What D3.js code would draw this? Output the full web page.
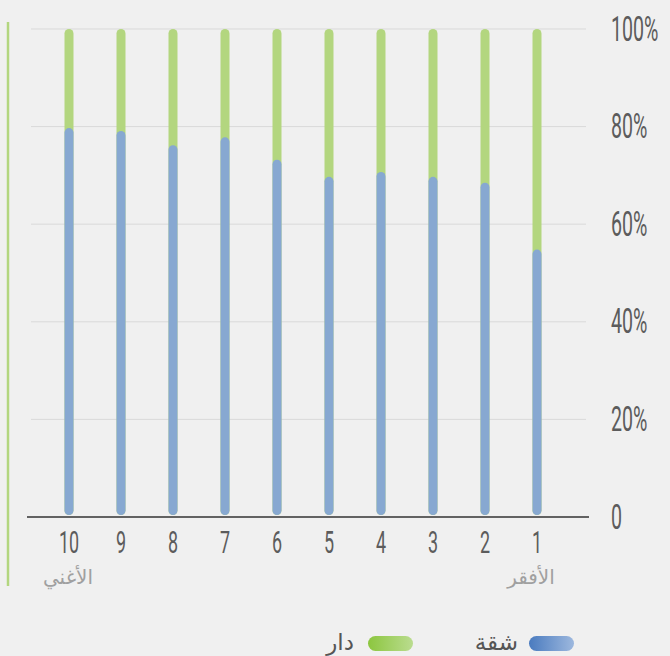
<!DOCTYPE html>
<html>
<head>
<meta charset="utf-8">
<script src="https://cdn.jsdelivr.net/npm/d3@7"></script>
<style>
  html, body { margin: 0; padding: 0; background: #f0f0f0; }
  svg { display: block; }
</style>
</head>
<body>
<svg id="chart" width="670" height="656"></svg>
<script>
// Deciles from richest (10) to poorest (1)
const categories = ["10", "9", "8", "7", "6", "5", "4", "3", "2", "1"];
// Share living in an apartment (%); the remainder lives in a house
const apartmentShare = [79.7, 79.1, 76.2, 77.8, 73.2, 69.7, 70.7, 69.7, 68.5, 54.8];
const yTicks = [0, 20, 40, 60, 80, 100];
const yTickLabels = ["0", "20%", "40%", "60%", "80%", "100%"];
const seriesNames = ["شقة", "دار"];
const endLabels = ["الأغني", "الأفقر"];

const colors = {
  apartment: "#87a8d1",
  house: "#b3d67f",
  grid: "#d9d9d9",
  axis: "#333333",
  tickText: "#5c5c5c",
  subText: "#a0a0a0"
};

const svg = d3.select("#chart");

const x = d3.scaleBand().domain(categories).range([43, 563]).padding(0);
const y = d3.scaleLinear().domain([0, 100]).range([517, 29]);
const barW = 9;

// Left accent line
svg.append("line")
  .attr("x1", 8).attr("x2", 8).attr("y1", 22).attr("y2", 586)
  .attr("stroke", colors.house).attr("stroke-width", 2.5);

// Horizontal gridlines
svg.append("g").selectAll("line")
  .data(yTicks.filter(t => t > 0))
  .join("line")
  .attr("x1", 31).attr("x2", 586)
  .attr("y1", d => y(d)).attr("y2", d => y(d))
  .attr("stroke", colors.grid).attr("stroke-width", 1);

// Bars: full-height house share, apartment share overlaid from the bottom
const bars = svg.append("g");
const barData = categories.map((c, i) => ({ cat: c, value: apartmentShare[i] }));
const cx = d => x(d.cat) + x.bandwidth() / 2;

bars.selectAll("rect.house")
  .data(barData)
  .join("rect")
  .attr("class", "house")
  .attr("x", d => cx(d) - barW / 2)
  .attr("y", y(100))
  .attr("width", barW)
  .attr("height", y(0) - 2 - y(100))
  .attr("rx", barW / 2)
  .attr("fill", colors.house);

bars.selectAll("rect.apartment")
  .data(barData)
  .join("rect")
  .attr("class", "apartment")
  .attr("x", d => cx(d) - barW / 2)
  .attr("y", d => y(d.value))
  .attr("width", barW)
  .attr("height", d => y(0) - 2 - y(d.value))
  .attr("rx", barW / 2)
  .attr("fill", colors.apartment);

// Baseline
svg.append("line")
  .attr("x1", 27).attr("x2", 589)
  .attr("y1", y(0)).attr("y2", y(0))
  .attr("stroke", colors.axis).attr("stroke-width", 1.5);

const condensed = "scale(0.56,1)";

// Category axis
const xAxis = svg.append("g")
  .attr("transform", `translate(0,${y(0)})`)
  .call(d3.axisBottom(x).tickSize(0).tickPadding(0));
xAxis.select(".domain").remove();
xAxis.selectAll("text")
  .attr("y", 0).attr("dy", 0)
  .attr("transform", "translate(0,36) " + condensed)
  .attr("font-family", "Roboto, 'DejaVu Sans', sans-serif")
  .attr("font-weight", 400)
  .attr("font-size", 32)
  .attr("fill", colors.tickText)
  .attr("text-anchor", "middle");

// Percentage axis on the right
const yAxis = svg.append("g")
  .attr("transform", "translate(611,0)")
  .call(d3.axisRight(y).tickValues(yTicks).tickSize(0).tickPadding(0)
    .tickFormat((d, i) => yTickLabels[i]));
yAxis.select(".domain").remove();
yAxis.selectAll("text")
  .attr("x", 0).attr("dy", 0)
  .attr("transform", "translate(0,11) " + condensed)
  .attr("font-family", "Roboto, 'DejaVu Sans', sans-serif")
  .attr("font-weight", 400)
  .attr("font-size", 35)
  .attr("fill", colors.tickText)
  .attr("text-anchor", "start");

// Richest / poorest labels under the end bars
svg.append("g").selectAll("text")
  .data([{ cat: "10", label: endLabels[0], dx: -1 }, { cat: "1", label: endLabels[1], dx: -6 }])
  .join("text")
  .attr("x", d => x(d.cat) + x.bandwidth() / 2 + d.dx)
  .attr("y", 584)
  .attr("text-anchor", "middle")
  .attr("font-family", "'DejaVu Sans', 'Noto Sans', sans-serif")
  .attr("font-size", 20)
  .attr("fill", colors.subText)
  .text(d => d.label);

// Legend
const defs = svg.append("defs");
const gradients = [
  { id: "gradApartment", from: "#4a7bbf", to: "#9db8de" },
  { id: "gradHouse", from: "#8cc63f", to: "#badc8f" }
];
gradients.forEach(g => {
  const lg = defs.append("linearGradient").attr("id", g.id)
    .attr("x1", "0%").attr("x2", "100%").attr("y1", "0%").attr("y2", "0%");
  lg.append("stop").attr("offset", "0%").attr("stop-color", g.from);
  lg.append("stop").attr("offset", "100%").attr("stop-color", g.to);
});

const legendItems = [
  { name: seriesNames[0], grad: "gradApartment", sx: 529, tx: 518 },
  { name: seriesNames[1], grad: "gradHouse", sx: 368, tx: 354 }
];
const legend = svg.append("g");
legend.selectAll("rect")
  .data(legendItems)
  .join("rect")
  .attr("x", d => d.sx).attr("y", 636)
  .attr("width", 45).attr("height", 15)
  .attr("rx", 7.5)
  .attr("fill", d => `url(#${d.grad})`);
legend.selectAll("text")
  .data(legendItems)
  .join("text")
  .attr("x", d => d.tx).attr("y", 650)
  .attr("text-anchor", "end")
  .attr("font-family", "'DejaVu Sans', 'Noto Sans', sans-serif")
  .attr("font-size", 23)
  .attr("fill", "#555555")
  .text(d => d.name);
</script>
</body>
</html>
